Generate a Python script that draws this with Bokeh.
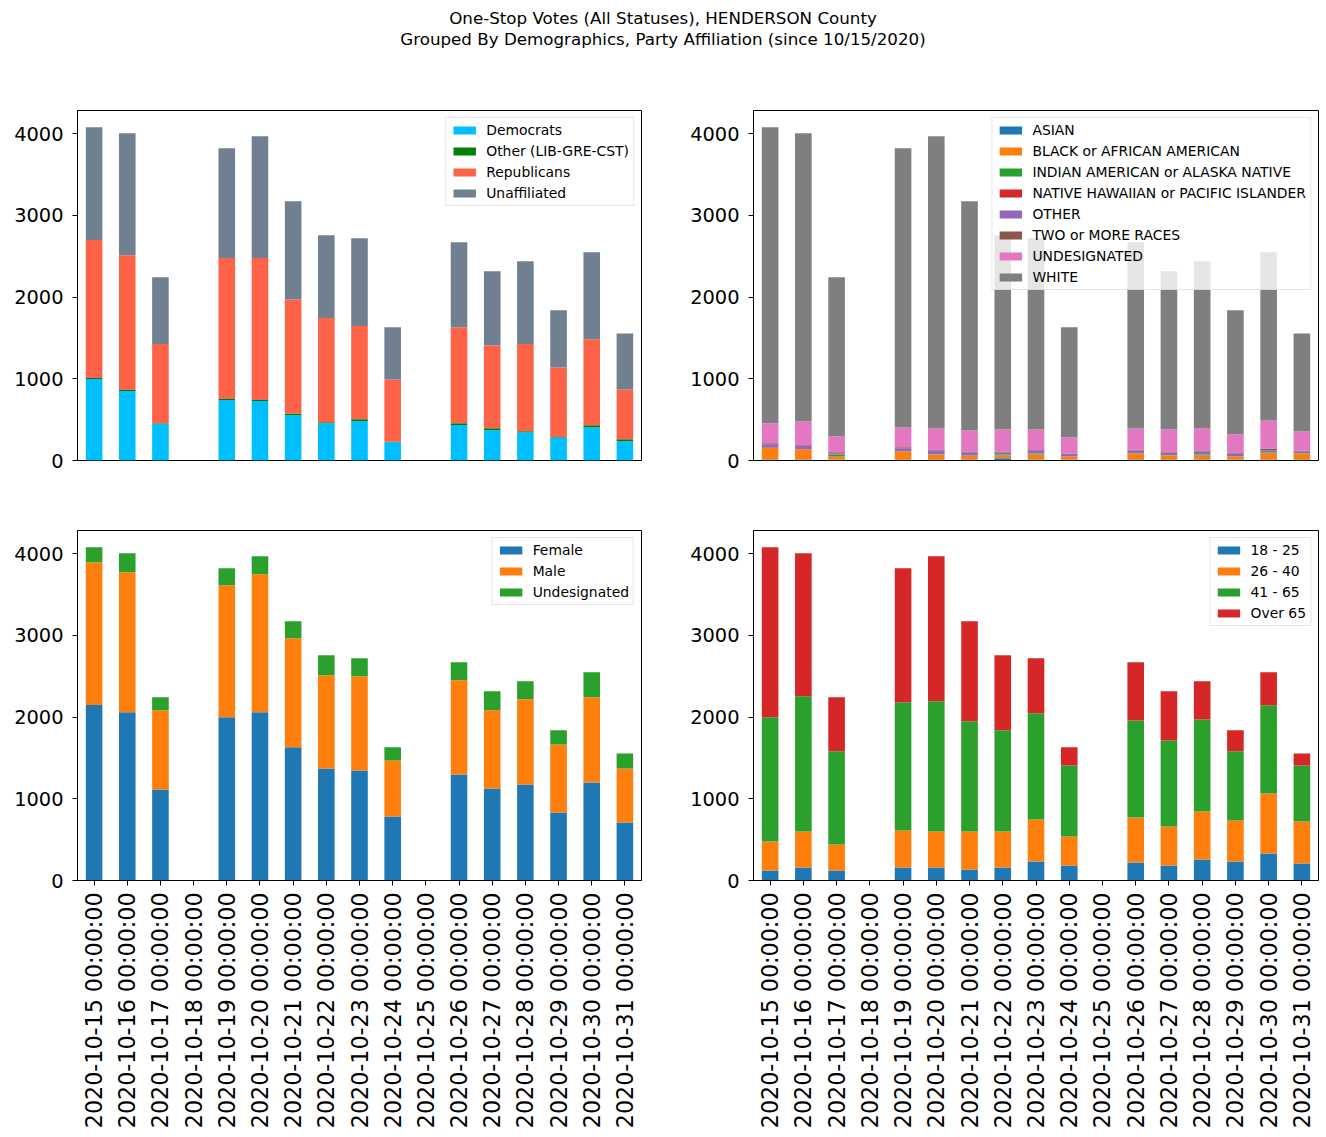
import math
from bokeh.plotting import figure
from bokeh.models import FactorRange, Range1d, FixedTicker, Div, ColumnDataSource
from bokeh.layouts import column, row
from bokeh.embed import file_html
from bokeh.resources import INLINE

dates = ["2020-10-%02d 00:00:00" % d for d in range(15, 32)]

# Party affiliation
party_names = ["Democrats", "Other (LIB-GRE-CST)", "Republicans", "Unaffiliated"]
democrats = [996, 849, 449, 0, 739, 727, 555, 457, 482, 224, 0, 433, 371, 347, 282, 408, 237]
other_party = [12, 12, 8, 0, 12, 12, 20, 12, 24, 4, 0, 24, 24, 12, 4, 24, 24]
republicans = [1690, 1649, 967, 0, 1727, 1739, 1396, 1274, 1139, 764, 0, 1172, 1013, 1065, 853, 1050, 608]
unaffiliated = [1380, 1494, 817, 0, 1342, 1489, 1200, 1012, 1073, 637, 0, 1040, 906, 1013, 698, 1065, 686]

# Race
race_names = ["ASIAN", "BLACK or AFRICAN AMERICAN", "INDIAN AMERICAN or ALASKA NATIVE",
              "NATIVE HAWAIIAN or PACIFIC ISLANDER", "OTHER", "TWO or MORE RACES",
              "UNDESIGNATED", "WHITE"]
asian = [12, 12, 10, 0, 12, 12, 12, 29, 12, 8, 0, 12, 12, 12, 10, 12, 12]
black = [140, 123, 39, 0, 98, 61, 45, 32, 61, 41, 0, 74, 49, 49, 39, 74, 74]
indian = [2, 1, 20, 0, 2, 2, 2, 12, 13, 1, 0, 2, 2, 12, 2, 12, 2]
hawaiian = [1, 1, 1, 0, 1, 0, 1, 1, 1, 0, 0, 1, 1, 1, 0, 1, 0]
other_race = [41, 39, 20, 0, 38, 47, 38, 24, 35, 32, 0, 33, 34, 36, 35, 23, 22]
two_more = [16, 12, 12, 0, 12, 5, 12, 12, 5, 4, 0, 13, 12, 12, 12, 25, 12]
undesig_race = [245, 290, 196, 0, 241, 265, 257, 270, 253, 196, 0, 257, 270, 270, 224, 343, 233]
white = [3621, 3526, 1943, 0, 3416, 3575, 2804, 2375, 2338, 1347, 0, 2277, 1934, 2045, 1515, 2057, 1200]

# Gender
gender_names = ["Female", "Male", "Undesignated"]
female = [2147, 2057, 1114, 0, 1996, 2057, 1629, 1371, 1347, 784, 0, 1298, 1127, 1176, 833, 1200, 710]
male = [1747, 1714, 968, 0, 1616, 1690, 1334, 1139, 1151, 685, 0, 1151, 955, 1040, 832, 1041, 661]
undesig_gender = [184, 233, 159, 0, 208, 220, 208, 245, 220, 160, 0, 220, 232, 221, 172, 306, 184]

# Age
age_names = ["18 - 25", "26 - 40", "41 - 65", "Over 65"]
age_18_25 = [122, 159, 122, 0, 159, 159, 135, 159, 233, 184, 0, 220, 184, 257, 233, 331, 208]
age_26_40 = [356, 441, 319, 0, 453, 441, 465, 441, 514, 355, 0, 551, 477, 588, 502, 734, 514]
age_41_65 = [1518, 1653, 1139, 0, 1568, 1592, 1347, 1237, 1298, 869, 0, 1188, 1053, 1126, 845, 1078, 686]
age_over_65 = [2082, 1751, 661, 0, 1640, 1775, 1224, 918, 673, 221, 0, 710, 600, 466, 257, 404, 147]

y_ticks = [0, 1000, 2000, 3000, 4000]

party_colors = ["#00bfff", "#008000", "#ff6347", "#708090"]
tab10 = ["#1f77b4", "#ff7f0e", "#2ca02c", "#d62728", "#9467bd", "#8c564b", "#e377c2", "#7f7f7f"]

FONT = "DejaVu Sans"


def make_panel(names, series, colors, w, h, bl, br, bt, bb, show_x):
    keys = ["s%d" % i for i in range(len(names))]
    data = {"date": dates}
    for k, s in zip(keys, series):
        data[k] = s
    src = ColumnDataSource(data)
    p = figure(x_range=FactorRange(*dates), y_range=Range1d(0, 4282),
               width=w, height=h, min_border_left=bl, min_border_right=br,
               min_border_top=bt, min_border_bottom=bb,
               output_backend="svg", toolbar_location=None)
    p.vbar_stack(keys, x="date", width=0.5, source=src, fill_color=colors,
                 line_color=None, legend_label=names)
    p.xgrid.visible = False
    p.ygrid.visible = False
    p.outline_line_color = "black"
    p.outline_line_width = 1
    p.outline_line_alpha = 1
    p.background_fill_color = "white"
    p.border_fill_color = "white"

    p.yaxis.ticker = FixedTicker(ticks=y_ticks)
    p.yaxis.minor_tick_line_color = None
    p.yaxis.major_tick_out = 5
    p.yaxis.major_tick_in = 0
    p.yaxis.major_label_standoff = 9
    p.yaxis.major_label_text_font = FONT
    p.yaxis.major_label_text_font_size = "19.4px"
    p.yaxis.major_label_text_color = "black"
    p.yaxis.axis_line_color = "black"
    p.yaxis.major_tick_line_color = "black"

    if show_x:
        p.xaxis.major_label_orientation = math.pi / 2
        p.xaxis.major_tick_out = 5
        p.xaxis.major_tick_in = 0
        p.xaxis.major_label_standoff = 7
        p.xaxis.major_label_text_font = FONT
        p.xaxis.major_label_text_font_size = "22.2px"
        p.xaxis.major_label_text_color = "black"
        p.xaxis.axis_line_color = "black"
        p.xaxis.major_tick_line_color = "black"
    else:
        p.xaxis.visible = False

    lg = p.legend[0]
    lg.location = "top_right"
    lg.margin = 7
    lg.padding = 4
    lg.spacing = 5
    lg.label_height = 14
    lg.glyph_height = 10
    lg.glyph_width = 28
    lg.label_standoff = 8
    lg.label_text_font = FONT
    lg.label_text_font_size = "13.9px"
    lg.label_text_color = "black"
    lg.border_line_color = "#cccccc"
    lg.border_line_width = 1
    lg.background_fill_color = "white"
    lg.background_fill_alpha = 0.8
    return p


p1 = make_panel(party_names, [democrats, other_party, republicans, unaffiliated],
                party_colors, 651, 420, 77, 10, 40, 30, False)
p2 = make_panel(race_names, [asian, black, indian, hawaiian, other_race, two_more, undesig_race, white],
                tab10, 675, 420, 102, 8, 40, 30, False)
p3 = make_panel(gender_names, [female, male, undesig_gender],
                tab10[:3], 651, 641, 77, 10, 40, 251, True)
p4 = make_panel(age_names, [age_18_25, age_26_40, age_41_65, age_over_65],
                tab10[:4], 675, 641, 102, 8, 40, 251, True)

title = Div(text=(
    '<div style="font-family:\'DejaVu Sans\'; font-size:16.7px; line-height:21px; '
    'text-align:center; color:black; width:1298px; padding-left:28px; padding-top:8px;">'
    'One-Stop Votes (All Statuses), HENDERSON County<br>'
    'Grouped By Demographics, Party Affiliation (since 10/15/2020)</div>'),
    width=1326, height=70, margin=0)

layout = column(title, row(p1, p2), row(p3, p4))

open("out.html", "w").write(file_html(layout, INLINE))
